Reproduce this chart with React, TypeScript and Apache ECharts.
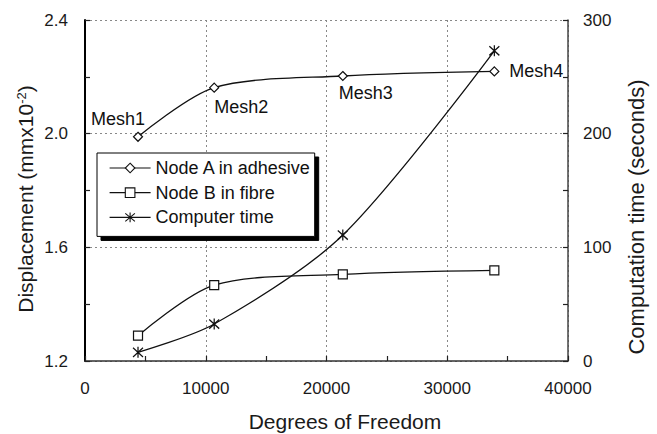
import React, { useEffect, useRef } from 'react';
import * as echarts from 'echarts';

const FONT = '"Liberation Sans", Arial, Helvetica, sans-serif';

// Degrees of freedom for the four meshes
const dof = [4390, 10700, 21350, 33900];
// Displacement (mm x 10^-2)
const nodeA = [1.989, 2.162, 2.203, 2.219];
const nodeB = [1.289, 1.467, 1.505, 1.519];
// Computation time (seconds)
const compTime = [7.6, 32.5, 110.8, 272.9];
const meshLabels = ['Mesh1', 'Mesh2', 'Mesh3', 'Mesh4'];
const seriesNames = ['Node A in adhesive', 'Node B in fibre', 'Computer time'];

// label offsets (style)
const labelOffsets = [
  [-20, -18],
  [27, 19],
  [23, 17],
  [42, 0],
];

const STAR = 'path://M0,1L10,11M10,1L0,11M5,0L5,12';

export default function App() {
  const ref = useRef<HTMLDivElement>(null);
  useEffect(() => {
    const chart = echarts.init(ref.current!, null, { renderer: 'svg' });
    const gridLine = { show: true, lineStyle: { color: '#888', type: [2, 3] as any, width: 1 } };
    const tickCommon = { show: true, inside: true, length: 5, lineStyle: { color: '#222', width: 1.2 } };
    const minorCommon = { show: true, splitNumber: 2, length: 5, lineStyle: { color: '#222', width: 1.2 } };
    const labelText = { fontFamily: FONT, fontSize: 17, color: '#1a1a1a' };
    const symStyle = { color: '#fff', borderColor: '#111', borderWidth: 1.2 };
    const lineStyle = { color: '#111', width: 1.3 };
    const SMOOTH = 0.3;

    chart.setOption({
      animation: false,
      backgroundColor: '#fff',
      grid: { left: 85, right: 89, top: 20, bottom: 73 },
      xAxis: {
        type: 'value',
        min: 0,
        max: 40000,
        interval: 10000,
        axisLine: { show: true, lineStyle: { color: '#333', width: 1.5 } },
        axisTick: tickCommon,
        minorTick: minorCommon,
        splitLine: gridLine,
        axisLabel: { ...labelText, margin: 19, formatter: (v: number) => String(v) },
      },
      yAxis: [
        {
          type: 'value',
          min: 1.2,
          max: 2.4,
          interval: 0.4,
          axisLine: { show: true, lineStyle: { color: '#000', width: 2 } },
          axisTick: tickCommon,
          minorTick: minorCommon,
          splitLine: gridLine,
          axisLabel: { ...labelText, margin: 17, formatter: (v: number) => v.toFixed(1) },
        },
        {
          type: 'value',
          min: 0,
          max: 300,
          interval: 100,
          position: 'right',
          axisLine: { show: true, lineStyle: { color: '#444', width: 1.5 } },
          axisTick: tickCommon,
          minorTick: minorCommon,
          splitLine: { show: false },
          axisLabel: { ...labelText, margin: 15, formatter: (v: number) => String(v) },
        },
      ],
      legend: {
        data: seriesNames,
        orient: 'vertical',
        left: 97,
        top: 153,
        itemWidth: 41,
        itemHeight: 12,
        itemGap: 6.7,
        padding: [6, 3, 10, 12],
        borderColor: '#000',
        borderWidth: 1,
        backgroundColor: '#fff',
        shadowColor: '#000',
        shadowOffsetX: 4,
        shadowOffsetY: 4,
        shadowBlur: 0.01,
        itemStyle: { color: '#fff', borderColor: '#111', borderWidth: 1.1 },
        lineStyle: { color: '#111', width: 1.2 },
        textStyle: { fontFamily: FONT, fontSize: 18, color: '#111' },
      },
      series: [
        {
          name: seriesNames[0],
          type: 'line',
          smooth: SMOOTH,
          symbol: 'diamond',
          symbolSize: 9,
          lineStyle,
          itemStyle: symStyle,
          data: dof.map((x, i) => ({
            value: [x, nodeA[i]],
            label: {
              show: true,
              position: 'inside',
              offset: labelOffsets[i],
              formatter: meshLabels[i],
              fontFamily: FONT,
              fontSize: 18,
              color: '#111',
            },
          })),
        },
        {
          name: seriesNames[1],
          type: 'line',
          smooth: SMOOTH,
          symbol: 'rect',
          symbolSize: 9,
          lineStyle,
          itemStyle: symStyle,
          data: dof.map((x, i) => [x, nodeB[i]]),
        },
        {
          name: seriesNames[2],
          type: 'line',
          yAxisIndex: 1,
          smooth: SMOOTH,
          symbol: STAR,
          symbolSize: [10, 11],
          lineStyle,
          itemStyle: { color: 'none', borderColor: '#111', borderWidth: 1.3 },
          data: dof.map((x, i) => [x, compTime[i]]),
        },
      ],
      graphic: [
        {
          type: 'text',
          x: 25,
          y: 199,
          rotation: Math.PI / 2,
          style: {
            text: 'Displacement (mmx10{sup|-2})',
            fontFamily: FONT,
            fontSize: 21,
            fill: '#1a1a1a',
            align: 'center',
            verticalAlign: 'middle',
            rich: {
              sup: { fontFamily: FONT, fontSize: 13, fill: '#1a1a1a', verticalAlign: 'top', padding: [0, 0, 8, 0] },
            },
          },
        },
        {
          type: 'text',
          x: 636,
          y: 217,
          rotation: Math.PI / 2,
          style: {
            text: 'Computation time (seconds)',
            fontFamily: FONT,
            fontSize: 22,
            fill: '#1a1a1a',
            align: 'center',
            verticalAlign: 'middle',
          },
        },
        {
          type: 'text',
          x: 345,
          y: 421.5,
          style: {
            text: 'Degrees of Freedom',
            fontFamily: FONT,
            fontSize: 21,
            fill: '#1a1a1a',
            align: 'center',
            verticalAlign: 'middle',
          },
        },
      ],
    });
    return () => chart.dispose();
  }, []);
  return <div ref={ref} style={{ position: 'absolute', left: 0, top: 0, width: 657, height: 434 }} />;
}
